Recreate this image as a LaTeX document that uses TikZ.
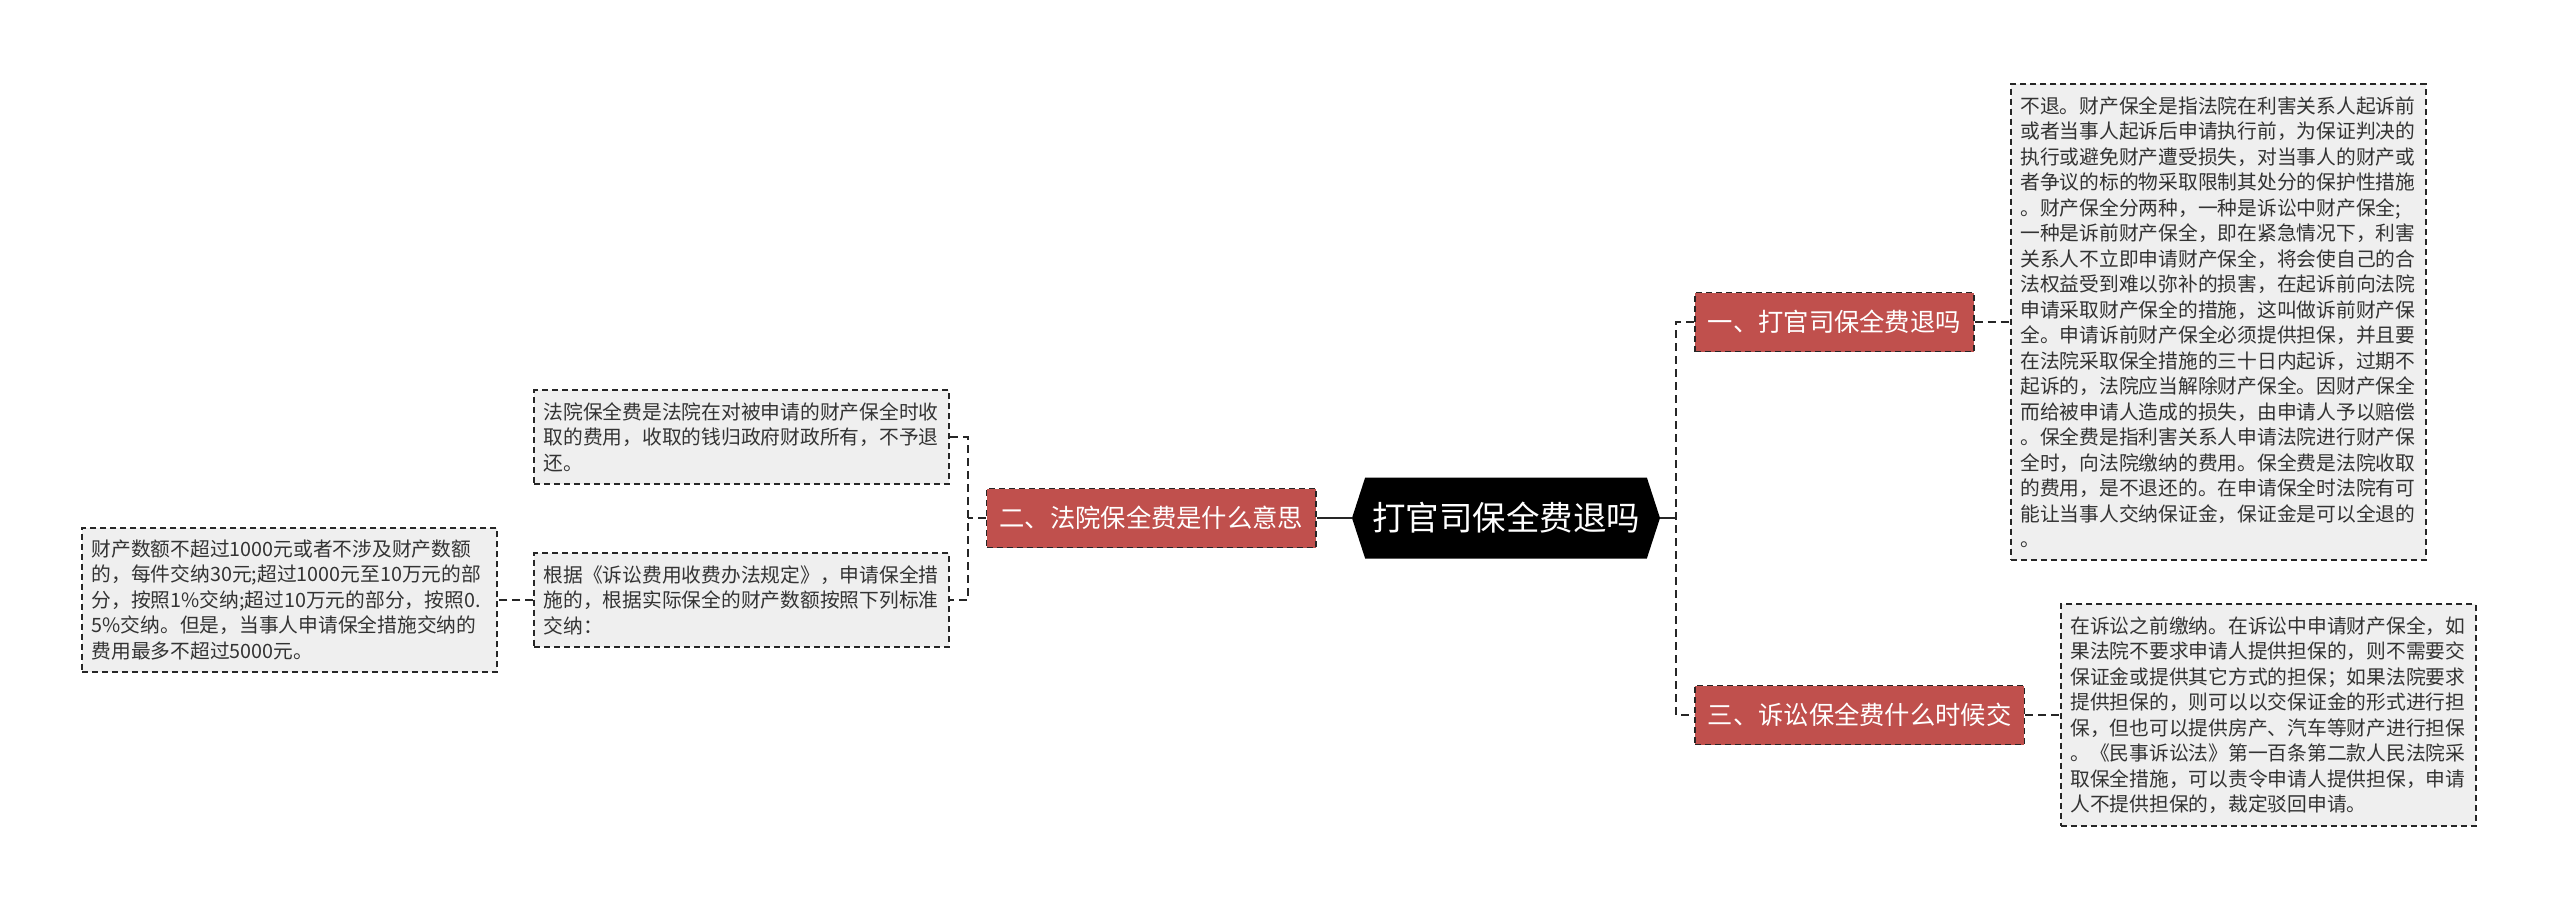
\documentclass[tikz,border=0pt]{standalone}
\usepackage{fontspec}
\setmainfont{Noto Sans CJK SC}
\usepackage{xcolor}
\definecolor{TopicRed}{HTML}{C0504D}
\definecolor{NoteGray}{HTML}{EFEFEF}
\definecolor{InkGray}{HTML}{333333}
\definecolor{EdgeGray}{HTML}{262626}
\usepackage{tikz}
\usetikzlibrary{shapes.symbols}

\begin{document}
\begin{tikzpicture}[x=0.5pt,y=-0.5pt,
  hub/.style={signal, signal to=west and east, signal pointer angle=144, fill=black, text=white,
    font=\fontsize{16.75}{20}\selectfont, minimum width=154pt, minimum height=40.5pt, inner xsep=2pt},
  topic/.style={fill=TopicRed, draw=EdgeGray, line width=0.85pt, dash pattern=on 3pt off 2pt, text=white,
    font=\fontsize{12.65}{15}\selectfont, inner xsep=6.5pt, minimum height=29.5pt},
  note/.style={fill=NoteGray, draw=EdgeGray, line width=0.85pt, dash pattern=on 3pt off 2pt, text=InkGray,
    font=\fontsize{9.875}{12.75}\selectfont, align=left, text width=198pt, inner xsep=4.75pt, inner ysep=6pt},
  link/.style={draw=EdgeGray, line width=1pt, dash pattern=on 4pt off 2.5pt}]
  \useasboundingbox (0,0) rectangle (2560,911);

  % centre and topics
  \node[hub] (hub) at (1506,518) {打官司保全费退吗};
  \node[topic, anchor=east] (meaning) at (1317,518) {二、法院保全费是什么意思};
  \node[topic, anchor=west] (refund) at (1694,322) {一、打官司保全费退吗};
  \node[topic, anchor=west] (when) at (1694,715) {三、诉讼保全费什么时候交};
  \coordinate (rjoin) at (1676,518);
  \coordinate (ljoin) at (968,518);

  % notes
  \node[note, anchor=west] (refundtxt) at (2010,322) {不退。财产保全是指法院在利害关系人起诉前\\
    或者当事人起诉后申请执行前，为保证判决的\\
    执行或避免财产遭受损失，对当事人的财产或\\
    者争议的标的物采取限制其处分的保护性措施\\
    。财产保全分两种，一种是诉讼中财产保全;\\
    一种是诉前财产保全，即在紧急情况下，利害\\
    关系人不立即申请财产保全，将会使自己的合\\
    法权益受到难以弥补的损害，在起诉前向法院\\
    申请采取财产保全的措施，这叫做诉前财产保\\
    全。申请诉前财产保全必须提供担保，并且要\\
    在法院采取保全措施的三十日内起诉，过期不\\
    起诉的，法院应当解除财产保全。因财产保全\\
    而给被申请人造成的损失，由申请人予以赔偿\\
    。保全费是指利害关系人申请法院进行财产保\\
    全时，向法院缴纳的费用。保全费是法院收取\\
    的费用，是不退还的。在申请保全时法院有可\\
    能让当事人交纳保证金，保证金是可以全退的\\
    。};
  \node[note, anchor=west] (whentxt) at (2060,715) {在诉讼之前缴纳。在诉讼中申请财产保全，如\\
    果法院不要求申请人提供担保的，则不需要交\\
    保证金或提供其它方式的担保；如果法院要求\\
    提供担保的，则可以以交保证金的形式进行担\\
    保，但也可以提供房产、汽车等财产进行担保\\
    。《民事诉讼法》第一百条第二款人民法院采\\
    取保全措施，可以责令申请人提供担保，申请\\
    人不提供担保的，裁定驳回申请。};
  \node[note, anchor=east] (meantxt) at (950,437) {法院保全费是法院在对被申请的财产保全时收\\
    取的费用，收取的钱归政府财政所有，不予退\\
    还。};
  \node[note, anchor=east] (ruletxt) at (950,600) {根据《诉讼费用收费办法规定》，申请保全措\\
    施的，根据实际保全的财产数额按照下列标准\\
    交纳：};
  \node[note, anchor=east] (ratetxt) at (498,600) {财产数额不超过1000元或者不涉及财产数额\\
    的，每件交纳30元;超过1000元至10万元的部\\
    分，按照1\%交纳;超过10万元的部分，按照0.\\
    5\%交纳。但是，当事人申请保全措施交纳的\\
    费用最多不超过5000元。};

  % connectors
  \draw[EdgeGray, line width=1pt] (hub.west) -- (meaning.east);
  \draw[EdgeGray, line width=1pt] (hub.east) -- (rjoin);
  \draw[link] (refund.west) -| (rjoin) |- (when.west);
  \draw[link] (refund.east) -- (refundtxt.west);
  \draw[link] (when.east) -- (whentxt.west);
  \draw[link] (meantxt.east) -| (ljoin) |- (ruletxt.east);
  \draw[link] (meaning.west) -- (ljoin);
  \draw[link] (ruletxt.west) -- (ratetxt.east);
\end{tikzpicture}
\end{document}
